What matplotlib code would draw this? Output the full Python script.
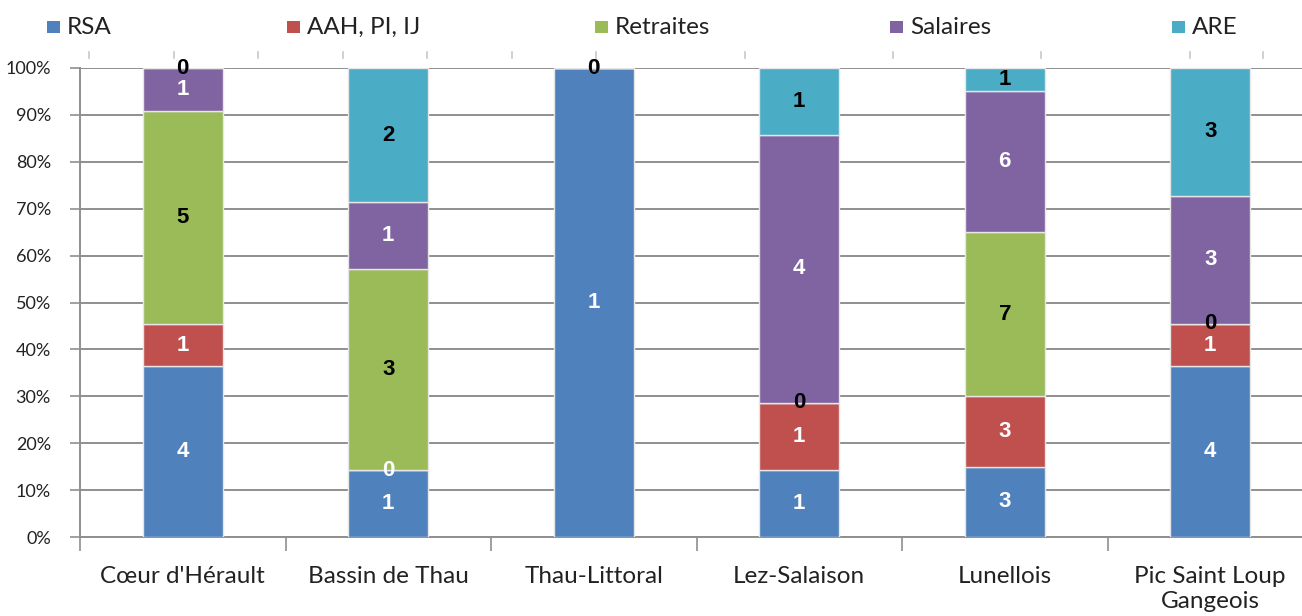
import numpy as np
import matplotlib
matplotlib.use('Agg')
import matplotlib.pyplot as plt
from matplotlib.patches import Rectangle
from matplotlib.lines import Line2D

plt.rcParams['font.family'] = ['Lato', 'DejaVu Sans']

categories = ["Cœur d'Hérault", "Bassin de Thau", "Thau-Littoral",
              "Lez-Salaison", "Lunellois", "Pic Saint Loup\nGangeois"]
series_names = ["RSA", "AAH, PI, IJ", "Retraites", "Salaires", "ARE"]
rsa = [4, 1, 1, 1, 3, 4]
aah = [1, 0, 0, 1, 3, 1]
retraites = [5, 3, 0, 0, 7, 0]
salaires = [1, 1, 0, 4, 6, 3]
are = [0, 2, 0, 1, 1, 3]

colors = ['#4F81BD', '#C0504D', '#9BBB59', '#8064A2', '#4BACC6']
label_colors = ['white', 'white', 'black', 'white', 'black']

# legend entry positions (left edge of square, figure pixels)
legend_px = [47, 287, 595, 890, 1172]
# faint tick marks above the plot (cropped secondary axis), in figure pixels
top_marks_px = [89, 174, 258, 343, 427, 512, 596, 745, 893, 1041, 1190, 1263]

W, H = 1302, 616
fig = plt.figure(figsize=(W / 100, H / 100), dpi=100)
ax = fig.add_axes([80 / W, (H - 537) / H, 1233 / W, 469 / H])

counts = np.array([rsa, aah, retraites, salaires, are], dtype=float)
totals = counts.sum(axis=0)
shares = counts / totals * 100
x = np.arange(len(categories))
bottom = np.zeros(len(categories))

for i, name in enumerate(series_names):
    ax.bar(x, shares[i], 0.39, bottom=bottom, color=colors[i],
           edgecolor='#e6e6e6', linewidth=1, label=name, zorder=3)
    for j in range(len(categories)):
        yc = bottom[j] + shares[i][j] / 2
        ax.text(x[j], yc, f"{int(counts[i][j])}", ha='center', va='center',
                color=label_colors[i], fontsize=16, fontweight='bold',
                family=['Liberation Sans', 'DejaVu Sans'], zorder=5)
    bottom += shares[i]

ax.set_xlim(-0.5, len(categories) - 0.5)
ax.set_ylim(0, 100)
ax.set_yticks(np.arange(0, 101, 10))
ax.set_yticklabels([f"{v}%" for v in range(0, 101, 10)])
ax.yaxis.grid(True, color='#8f8f8f', linewidth=1.4, zorder=0)
ax.set_axisbelow(True)

ax.set_xticks(x)
ax.set_xticklabels(categories, linespacing=1.2)
ax.set_xticks(np.arange(-0.5, len(categories), 1), minor=True)
ax.tick_params(axis='x', which='major', length=0, pad=21, labelsize=17.5,
               colors='#222222')
ax.tick_params(axis='x', which='minor', length=10, width=1.2, color='#8f8f8f')
ax.tick_params(axis='y', length=7, width=1.2, color='#8f8f8f', pad=14,
               labelsize=13, labelcolor='#222222')

for s in ['top', 'right']:
    ax.spines[s].set_visible(False)
for s in ['left', 'bottom']:
    ax.spines[s].set_color('#8f8f8f')
    ax.spines[s].set_linewidth(1.4)

for px in top_marks_px:
    fig.add_artist(Line2D([px / W, px / W], [(H - 52) / H, (H - 58) / H],
                          color='#c8c8c8', linewidth=1.2))

# legend drawn entry by entry, as in the original layout
for px, c, name in zip(legend_px, colors, series_names):
    fig.add_artist(Rectangle((px / W, (H - 33) / H), 13 / W, 12 / H,
                             facecolor=c, edgecolor='none',
                             transform=fig.transFigure))
    fig.text((px + 20) / W, (H - 27) / H, name, ha='left', va='center',
             fontsize=17.5, color='#222222')

fig.savefig('out.png', dpi=100)
